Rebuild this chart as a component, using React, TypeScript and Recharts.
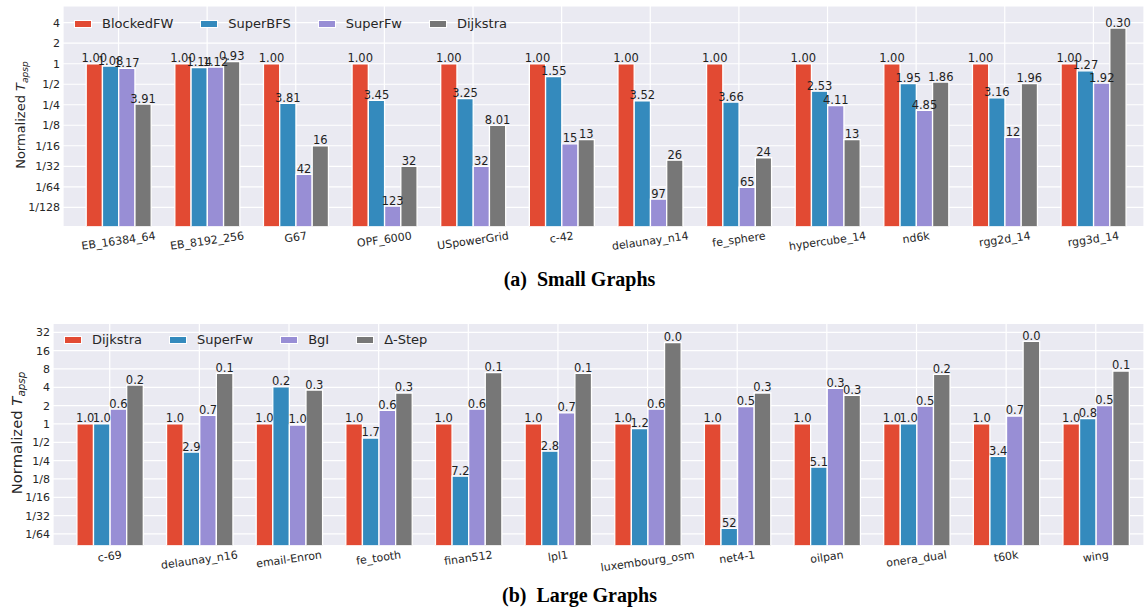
import React from 'react';
import { BarChart, Bar, XAxis, YAxis, CartesianGrid, LabelList } from 'recharts';

// ---------- Data: (a) Small Graphs (speedup labels; bar = 1/speedup) ----------
const smallGraphs = ['EB_16384_64', 'EB_8192_256', 'G67', 'OPF_6000', 'USpowerGrid', 'c-42', 'delaunay_n14', 'fe_sphere', 'hypercube_14', 'nd6k', 'rgg2d_14', 'rgg3d_14'];
const smallSeries = ['BlockedFW', 'SuperBFS', 'SuperFw', 'Dijkstra'];
const blockedFW = [1, 1, 1, 1, 1, 1, 1, 1, 1, 1, 1, 1];
const superBFS = [1.08, 1.14, 3.81, 3.45, 3.25, 1.55, 3.52, 3.66, 2.53, 1.95, 3.16, 1.27];
const superFwSmall = [1.17, 1.12, 42, 123, 32, 15, 97, 65, 4.11, 4.85, 12, 1.92];
const dijkstraSmall = [3.91, 0.93, 16, 32, 8.01, 13, 26, 24, 13, 1.86, 1.96, 0.30];
const smallTicks = [1 / 128, 1 / 64, 1 / 32, 1 / 16, 1 / 8, 1 / 4, 1 / 2, 1, 2, 4];

// ---------- Data: (b) Large Graphs ----------
const largeGraphs = ['c-69', 'delaunay_n16', 'email-Enron', 'fe_tooth', 'finan512', 'lpl1', 'luxembourg_osm', 'net4-1', 'oilpan', 'onera_dual', 't60k', 'wing'];
const largeSeries = ['Dijkstra', 'SuperFw', 'BgI', '\u0394-Step'];
const dijkstraLarge = [1, 1, 1, 1, 1, 1, 1, 1, 1, 1, 1, 1];
const superFwLarge = [1.0, 2.9, 0.247, 1.7, 7.2, 2.8, 1.19, 52, 5.1, 1.0, 3.4, 0.82];
const bglLarge = [0.57, 0.72, 1.04, 0.6, 0.57, 0.66, 0.57, 0.52, 0.26, 0.51, 0.74, 0.5];
const deltaLarge = [0.23, 0.147, 0.277, 0.31, 0.144, 0.147, 0.046, 0.31, 0.34, 0.154, 0.044, 0.135];
const largeTicks = [1 / 64, 1 / 32, 1 / 16, 1 / 8, 1 / 4, 1 / 2, 1, 2, 4, 8, 16, 32];

const COLORS = ['#E24A33', '#348ABD', '#988ED5', '#777777'];
const TEXT = '#262626';
const FONT = '"DejaVu Sans", sans-serif';
const BG = '#EAEAF2';

const fmtSmall = (s: number) => (s >= 10 ? String(Math.round(s)) : s.toFixed(2));
const fmtLarge = (s: number) => (s >= 10 ? String(Math.round(s)) : s.toFixed(1));
const fracLabel = (v: number) => (v >= 1 ? String(Math.round(v)) : '1/' + Math.round(1 / v));

function buildRows(names: string[], cols: number[][], fmt: (s: number) => string) {
  return names.map((name, i) => {
    const row: any = { name };
    cols.forEach((c, k) => {
      row['v' + k] = 1 / c[i];
      row['l' + k] = fmt(c[i]);
    });
    return row;
  });
}

const smallRows = buildRows(smallGraphs, [blockedFW, superBFS, superFwSmall, dijkstraSmall], fmtSmall);
const largeRows = buildRows(largeGraphs, [dijkstraLarge, superFwLarge, bglLarge, deltaLarge], fmtLarge);

let ctx: CanvasRenderingContext2D | null = null;
function measure(text: string, font: string) {
  if (!ctx) ctx = document.createElement('canvas').getContext('2d');
  if (!ctx) return text.length * 6.6;
  ctx.font = font;
  return ctx.measureText(text).width;
}

const ANGLE = 8;
function RotTick(props: any) {
  const { x, y, payload } = props;
  const text = String(payload.value);
  const L = measure(text, '11px "DejaVu Sans"');
  const h = 12.5;
  const rad = (ANGLE * Math.PI) / 180;
  const bh = L * Math.sin(rad) + h * Math.cos(rad);
  const cy = y + 3 + bh / 2;
  return (
    <text x={x} y={cy} transform={`rotate(${-ANGLE}, ${x}, ${cy})`} textAnchor="middle" dominantBaseline="central" fontSize={11} fill={TEXT} fontFamily={FONT}>
      {text}
    </text>
  );
}

function YLabel({ bx, cy, size }: { bx: number; cy: number; size: number }) {
  return (
    <text x={bx} y={cy} transform={`rotate(-90, ${bx}, ${cy})`} textAnchor="middle" fontSize={size} fill={TEXT} fontFamily={FONT}>
      Normalized <tspan fontStyle="italic">T</tspan>
      <tspan fontStyle="italic" fontSize={size * 0.7} dy={size * 0.25}>apsp</tspan>
    </text>
  );
}

function Legend({ names, left, top }: { names: string[]; left: number; top: number }) {
  return (
    <div style={{ position: 'absolute', left, top, height: 16, display: 'flex', alignItems: 'center', fontFamily: FONT, fontSize: 13, color: TEXT, lineHeight: '16px', whiteSpace: 'nowrap' }}>
      {names.map((n, i) => (
        <div key={n} style={{ display: 'flex', alignItems: 'center', marginRight: 27 }}>
          <span style={{ display: 'inline-block', width: 16, height: 6, background: COLORS[i], border: '1px solid #fff', marginRight: 10 }} />
          <span>{n}</span>
        </div>
      ))}
    </div>
  );
}

function Panel({ rows, ticks, domain, yWidth, height, marginTop, xHeight, padding, barSize, fmtTick }: any) {
  return (
    <BarChart width={1144} height={height} data={rows} margin={{ top: marginTop, right: 0, left: 0, bottom: 0 }} barGap={0}>
      <CartesianGrid stroke="#ffffff" strokeWidth={1.2} fill={BG} fillOpacity={1} />
      <XAxis dataKey="name" type="category" interval={0} padding={padding} axisLine={false} tickLine={false} tickSize={0} tickMargin={0} height={xHeight} tick={<RotTick />} />
      <YAxis
        type="number"
        scale="log"
        domain={domain}
        allowDataOverflow
        ticks={ticks}
        interval={0}
        width={yWidth}
        axisLine={false}
        tickLine={false}
        tickSize={3}
        tickMargin={0}
        tickFormatter={fmtTick}
        tick={{ fontSize: 11, fill: TEXT, fontFamily: FONT }}
      />
      {[0, 1, 2, 3].map((k) => (
        <Bar key={k} dataKey={'v' + k} fill={COLORS[k]} stroke="#ffffff" strokeWidth={1.3} barSize={barSize} isAnimationActive={false}>
          <LabelList dataKey={'l' + k} position="top" offset={1.5} fontSize={11.5} fill="#1f1f1f" fontFamily={FONT} />
        </Bar>
      ))}
    </BarChart>
  );
}

export default function App() {
  return (
    <div style={{ position: 'absolute', left: 0, top: 0, width: 1144, height: 611, overflow: 'hidden', background: '#fff' }}>
      <div style={{ position: 'absolute', left: 0, top: 0 }}>
        <Panel rows={smallRows} ticks={smallTicks} domain={[Math.pow(2, -7.946), Math.pow(2, 2.815)]} yWidth={63} height={260} marginTop={6} xHeight={33.3} padding={{ left: 11.2, right: 6.3 }} barSize={16.25} fmtTick={fracLabel} />
        <svg style={{ position: 'absolute', left: 0, top: 0 }} width={40} height={240}>
          <YLabel bx={25} cy={115} size={13} />
        </svg>
      </div>
      <Legend names={smallSeries} left={74} top={15.7} />
      <div style={{ position: 'absolute', left: 0, top: 269, width: 1159, textAlign: 'center', fontFamily: '"Liberation Serif", serif', fontWeight: 'bold', fontSize: 20, lineHeight: '20px', whiteSpace: 'pre', color: '#000' }}>
        (a)  Small Graphs
      </div>

      <div style={{ position: 'absolute', left: 0, top: 310 }}>
        <Panel rows={largeRows} ticks={largeTicks} domain={[Math.pow(2, -6.64), Math.pow(2, 5.49)]} yWidth={53} height={265} marginTop={13.3} xHeight={29.3} padding={{ left: 11.9, right: 3.4 }} barSize={16.6} fmtTick={fracLabel} />
        <svg style={{ position: 'absolute', left: 0, top: 0 }} width={40} height={250}>
          <YLabel bx={21.7} cy={123} size={14.8} />
        </svg>
      </div>
      <Legend names={largeSeries} left={64} top={332} />
      <div style={{ position: 'absolute', left: 0, top: 585, width: 1159, textAlign: 'center', fontFamily: '"Liberation Serif", serif', fontWeight: 'bold', fontSize: 20, lineHeight: '20px', whiteSpace: 'pre', color: '#000' }}>
        (b)  Large Graphs
      </div>
    </div>
  );
}
